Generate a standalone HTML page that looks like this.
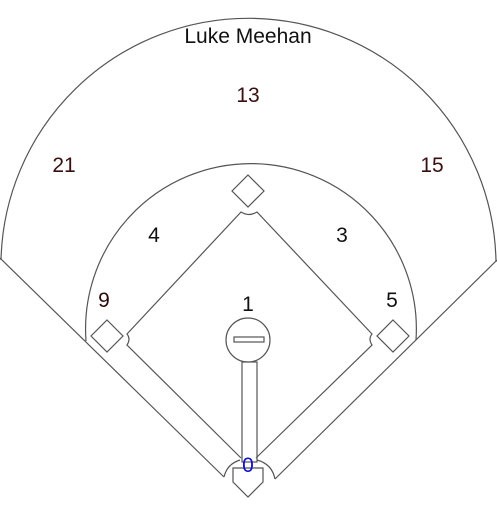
<!DOCTYPE html>
<html><head><meta charset="utf-8"><style>
html,body{margin:0;padding:0;background:#fff;}
svg{display:block;font-family:"Liberation Sans",Arial,sans-serif;}
</style></head><body>
<svg width="497" height="509" viewBox="0 0 497 509">
<g fill="none" stroke="#555" stroke-width="1.2">
  <path d="M1,260 A247.55,247.55 0 0 1 496,262"/>
  <path d="M86,341 A165.4,165.4 0 1 1 416,340"/>
  <path d="M0,258 L224,477"/>
  <path d="M497,260 L275,479"/>
  <path d="M241,458 L127,345 Q131,339 127,334 L241,212 Q249,217 257,212 L372,334 Q368,339 372,345 L256,458"/>
  <path d="M224,477 Q227,464 240,460 M257,460 Q272,464 275,479"/>
  <path d="M233,468 L263,468 L263,482 L248,497 L233,482 Z"/>
  <rect x="242" y="362" width="15" height="100"/>
  <circle cx="248" cy="340" r="22" fill="#fff"/>
  <rect x="234" y="337" width="30" height="5"/>
  <path d="M248,175 L264,191 L248,207 L232,191 Z"/>
  <path d="M107,320 L123,336 L107,352 L91,336 Z"/>
  <path d="M393,320 L409,336 L393,352 L377,336 Z"/>
</g>
<g font-size="21" text-anchor="middle">
  <text x="248" y="43" fill="#111">Luke Meehan</text>
  <text x="248" y="102" fill="#3a0f0f">13</text>
  <text x="64" y="172" fill="#3a0f0f">21</text>
  <text x="432" y="172" fill="#3a0f0f">15</text>
  <text x="154" y="242" fill="#111">4</text>
  <text x="342" y="242" fill="#111">3</text>
  <text x="104" y="307" fill="#2a0a0a">9</text>
  <text x="392" y="307" fill="#111">5</text>
  <text x="248" y="311" fill="#111">1</text>
  <text x="248" y="472" fill="#1010d0">0</text>
</g>
</svg>
</body></html>
